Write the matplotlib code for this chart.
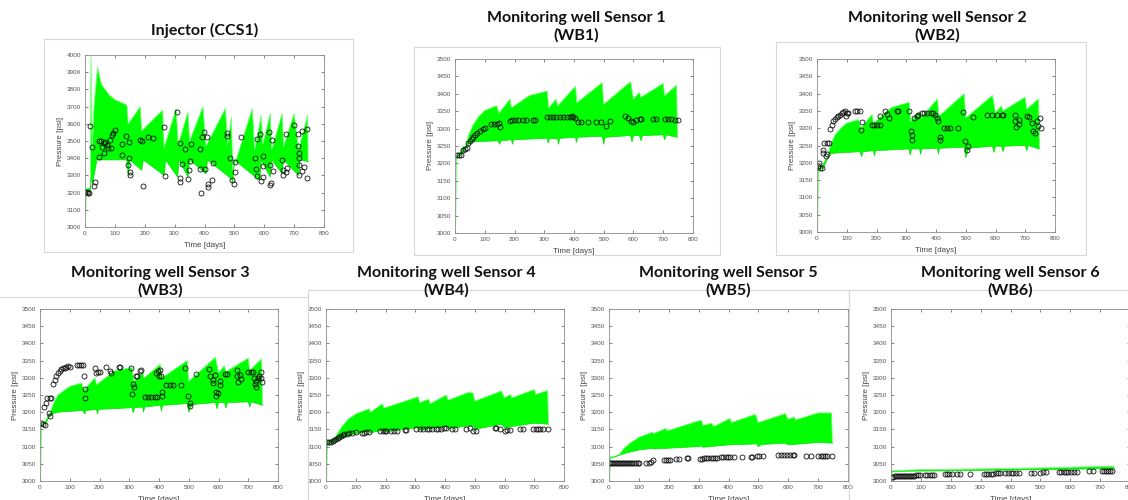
import matplotlib.pyplot as plt
from matplotlib.patches import Rectangle

W, H = 1128, 500

# Ensemble envelopes and observed pressures, (time [days], pressure [psi])
ccs1_upper = [(3, 3220), (18, 3230), (20, 4000), (24, 3450), (30, 3700), (42, 3930), (55, 3830),
              (80, 3770), (100, 3740), (140, 3710), (145, 3600), (185, 3700), (190, 3560),
              (260, 3680), (265, 3460), (305, 3690), (312, 3480), (345, 3670), (350, 3500),
              (395, 3700), (405, 3470), (470, 3690), (478, 3480), (490, 3640), (495, 3330),
              (560, 3690), (568, 3450), (590, 3650), (595, 3480), (620, 3660), (625, 3450),
              (660, 3660), (665, 3470), (700, 3660), (715, 3450), (745, 3650), (747, 3380)]
ccs1_lower = [(3, 3000), (5, 3200), (18, 3210), (20, 3280), (25, 3250), (40, 3390), (100, 3390),
              (140, 3390), (145, 3300), (150, 3390), (190, 3330), (195, 3390), (265, 3300),
              (270, 3390), (310, 3290), (315, 3390), (345, 3290), (350, 3390), (405, 3310),
              (410, 3390), (490, 3280), (495, 3260), (500, 3390), (585, 3270), (590, 3390),
              (620, 3290), (625, 3390), (660, 3310), (665, 3390), (715, 3300), (720, 3390),
              (747, 3380)]
ccs1_obs = [(1, 3203), (6, 3201), (10, 3200), (15, 3200), (17, 3588), (25, 3464), (31, 3236),
            (33, 3259), (46, 3408), (48, 3500), (52, 3502), (58, 3464), (62, 3487), (65, 3429),
            (68, 3497), (73, 3478), (78, 3462), (84, 3507), (87, 3458), (91, 3534), (95, 3545),
            (100, 3565), (123, 3482), (125, 3420), (136, 3530), (143, 3362), (146, 3493),
            (148, 3400), (149, 3300), (150, 3319), (184, 3507), (191, 3499), (193, 3236),
            (210, 3526), (229, 3516), (266, 3580), (267, 3294), (309, 3671), (317, 3487),
            (317, 3284), (318, 3259), (324, 3366), (335, 3454), (345, 3280), (349, 3333),
            (351, 3385), (355, 3483), (385, 3454), (387, 3197), (384, 3337), (391, 3522),
            (398, 3551), (402, 3337), (407, 3522), (412, 3251), (413, 3232), (425, 3271),
            (427, 3371), (474, 3549), (476, 3530), (485, 3404), (493, 3275), (499, 3251),
            (502, 3377), (503, 3319), (521, 3526), (569, 3400), (571, 3337), (575, 3298),
            (577, 3512), (585, 3538), (589, 3265), (595, 3292), (596, 3414), (597, 3352),
            (617, 3555), (619, 3362), (620, 3242), (623, 3253), (625, 3503), (628, 3325),
            (660, 3391), (662, 3333), (664, 3304), (675, 3342), (674, 3321), (673, 3540),
            (701, 3592), (712, 3540), (714, 3472), (715, 3433), (717, 3400), (715, 3358),
            (715, 3300), (725, 3561), (725, 3323), (733, 3346), (744, 3284), (744, 3569)]

wb1_upper = [(4, 3222), (15, 3228), (28, 3250), (35, 3245), (45, 3280), (60, 3310), (80, 3335),
             (100, 3352), (140, 3366), (148, 3345), (185, 3385), (190, 3360), (250, 3395),
             (310, 3408), (315, 3360), (340, 3385), (345, 3365), (405, 3422), (410, 3375),
             (495, 3432), (500, 3370), (590, 3435), (600, 3385), (620, 3405), (625, 3390),
             (700, 3430), (705, 3395), (745, 3425), (748, 3275)]
wb1_lower = [(4, 3000), (6, 3218), (20, 3225), (30, 3235), (45, 3255), (60, 3262), (145, 3265),
             (150, 3255), (155, 3265), (190, 3268), (193, 3255), (197, 3268), (310, 3272),
             (313, 3258), (318, 3272), (345, 3270), (348, 3255), (352, 3272), (405, 3275),
             (408, 3260), (412, 3275), (495, 3278), (500, 3255), (505, 3275), (590, 3280),
             (595, 3262), (600, 3280), (620, 3280), (625, 3265), (630, 3280), (700, 3282),
             (705, 3268), (710, 3282), (748, 3275)]
wb1_obs = [(8, 3224), (14, 3224), (20, 3225), (28, 3238), (34, 3241), (39, 3243), (45, 3258),
           (50, 3264), (56, 3270), (62, 3277), (67, 3283), (75, 3288), (84, 3294), (93, 3298),
           (101, 3303), (120, 3312), (131, 3312), (140, 3312), (149, 3315), (151, 3304),
           (185, 3323), (191, 3324), (201, 3324), (212, 3324), (229, 3324), (240, 3324),
           (263, 3324), (268, 3324), (308, 3333), (319, 3333), (330, 3333), (341, 3333),
           (352, 3333), (363, 3333), (375, 3333), (386, 3333), (392, 3335), (397, 3332),
           (403, 3330), (414, 3320), (425, 3320), (447, 3320), (475, 3320), (492, 3320),
           (506, 3308), (522, 3322), (570, 3335), (582, 3330), (593, 3322), (598, 3320),
           (610, 3325), (621, 3327), (626, 3327), (666, 3327), (677, 3327), (705, 3329),
           (716, 3329), (727, 3327), (738, 3326), (749, 3326)]

wb2_upper = [(4, 3185), (15, 3190), (25, 3205), (35, 3215), (45, 3250), (60, 3280), (80, 3300),
             (100, 3315), (140, 3325), (148, 3300), (185, 3340), (190, 3315), (250, 3360),
             (310, 3375), (315, 3320), (345, 3350), (350, 3330), (405, 3385), (410, 3335),
             (495, 3400), (500, 3330), (590, 3395), (600, 3345), (620, 3365), (625, 3350),
             (700, 3390), (705, 3355), (745, 3385), (748, 3240)]
wb2_lower = [(4, 3000), (6, 3180), (20, 3185), (30, 3200), (40, 3225), (60, 3228), (145, 3232),
             (150, 3218), (155, 3232), (190, 3235), (193, 3220), (197, 3235), (310, 3240),
             (313, 3222), (318, 3240), (345, 3240), (348, 3225), (352, 3240), (405, 3242),
             (408, 3225), (412, 3242), (495, 3245), (500, 3215), (510, 3242), (590, 3248),
             (595, 3230), (600, 3248), (620, 3248), (625, 3232), (630, 3248), (700, 3250),
             (705, 3235), (710, 3250), (748, 3240)]
wb2_obs = [(4, 3190), (8, 3199), (10, 3185), (16, 3184), (19, 3236), (21, 3228), (25, 3257),
           (30, 3219), (32, 3257), (35, 3224), (41, 3257), (44, 3298), (49, 3310), (55, 3320),
           (60, 3328), (66, 3332), (71, 3336), (77, 3339), (83, 3344), (89, 3346), (94, 3349),
           (97, 3334), (100, 3344), (105, 3344), (128, 3349), (136, 3349), (145, 3349),
           (148, 3296), (150, 3317), (184, 3310), (192, 3310), (200, 3310), (212, 3310),
           (212, 3334), (229, 3349), (235, 3340), (243, 3329), (268, 3349), (273, 3349),
           (310, 3349), (316, 3291), (318, 3281), (318, 3267), (326, 3329), (335, 3334),
           (340, 3339), (352, 3344), (360, 3344), (371, 3344), (382, 3344), (391, 3344),
           (396, 3339), (402, 3329), (408, 3320), (413, 3276), (415, 3267), (427, 3301),
           (436, 3301), (447, 3301), (475, 3301), (490, 3346), (497, 3262), (503, 3238),
           (509, 3248), (525, 3332), (570, 3339), (587, 3339), (604, 3339), (621, 3339),
           (626, 3339), (666, 3339), (666, 3320), (669, 3303), (680, 3325), (680, 3312),
           (705, 3334), (714, 3332), (722, 3315), (727, 3291), (733, 3286), (738, 3320),
           (744, 3305), (750, 3329), (752, 3301)]

wb3_upper = [(4, 3165), (15, 3170), (25, 3185), (35, 3200), (45, 3225), (60, 3250), (100, 3275),
             (140, 3285), (148, 3265), (185, 3300), (190, 3280), (250, 3320), (310, 3330),
             (315, 3290), (345, 3315), (350, 3300), (405, 3340), (410, 3300), (495, 3350),
             (500, 3290), (590, 3360), (600, 3315), (620, 3335), (625, 3318), (700, 3357),
             (705, 3322), (745, 3355), (748, 3220)]
wb3_lower = [(4, 3000), (6, 3162), (20, 3168), (30, 3185), (40, 3195), (60, 3200), (145, 3205),
             (150, 3195), (155, 3205), (190, 3208), (193, 3195), (197, 3208), (310, 3213),
             (313, 3198), (318, 3213), (345, 3215), (348, 3200), (352, 3215), (405, 3220),
             (408, 3203), (412, 3220), (495, 3225), (500, 3200), (510, 3222), (590, 3228),
             (595, 3210), (600, 3228), (620, 3228), (625, 3212), (630, 3228), (700, 3230),
             (705, 3215), (710, 3230), (748, 3220)]
wb3_obs = [(4, 3169), (10, 3165), (16, 3164), (13, 3216), (19, 3226), (24, 3240), (30, 3198),
           (32, 3240), (33, 3188), (38, 3240), (44, 3281), (49, 3294), (55, 3304), (61, 3313),
           (66, 3320), (72, 3326), (77, 3328), (83, 3328), (89, 3330), (94, 3333), (100, 3331),
           (124, 3338), (131, 3338), (139, 3338), (145, 3338), (148, 3304), (150, 3267),
           (152, 3242), (184, 3328), (187, 3315), (195, 3318), (200, 3318), (223, 3331),
           (234, 3321), (240, 3313), (264, 3331), (268, 3331), (307, 3328), (310, 3253),
           (313, 3282), (315, 3274), (322, 3304), (326, 3306), (335, 3321), (341, 3323),
           (352, 3245), (363, 3245), (374, 3245), (385, 3245), (393, 3245), (389, 3315),
           (397, 3321), (399, 3304), (402, 3323), (408, 3304), (411, 3247), (411, 3260),
           (425, 3279), (436, 3279), (447, 3279), (475, 3279), (486, 3328), (497, 3247),
           (503, 3228), (505, 3218), (523, 3311), (568, 3325), (573, 3304), (581, 3294),
           (581, 3284), (587, 3308), (593, 3260), (598, 3255), (593, 3247), (606, 3292),
           (604, 3279), (621, 3311), (629, 3311), (662, 3323), (662, 3304), (666, 3289),
           (673, 3308), (677, 3296), (699, 3318), (710, 3318), (716, 3318), (718, 3299),
           (722, 3282), (725, 3274), (727, 3291), (733, 3299), (736, 3304), (744, 3317),
           (747, 3289), (744, 3299)]

wb4_upper = [(4, 3115), (20, 3120), (30, 3125), (40, 3140), (55, 3160), (75, 3180), (100, 3195),
             (145, 3210), (150, 3200), (190, 3225), (195, 3212), (310, 3245), (315, 3228),
             (345, 3238), (350, 3225), (405, 3250), (410, 3235), (480, 3258), (495, 3255),
             (500, 3232), (590, 3262), (600, 3242), (620, 3252), (625, 3242), (700, 3266),
             (705, 3252), (745, 3263), (748, 3165)]
wb4_lower = [(4, 3000), (6, 3108), (20, 3112), (30, 3118), (50, 3125), (80, 3135), (145, 3145),
             (150, 3140), (190, 3148), (195, 3143), (310, 3155), (315, 3148), (405, 3160),
             (410, 3152), (495, 3162), (500, 3150), (590, 3165), (600, 3155), (700, 3168),
             (748, 3165)]
wb4_obs = [(4, 3112), (11, 3112), (17, 3114), (22, 3116), (28, 3119), (34, 3122), (39, 3125),
           (45, 3128), (50, 3131), (56, 3133), (62, 3136), (69, 3138), (78, 3140), (89, 3140),
           (101, 3141), (120, 3140), (128, 3140), (136, 3141), (145, 3143), (181, 3145),
           (190, 3145), (198, 3145), (203, 3145), (220, 3146), (229, 3146), (237, 3146),
           (265, 3148), (270, 3148), (304, 3151), (315, 3150), (327, 3150), (338, 3151),
           (347, 3151), (355, 3151), (371, 3152), (377, 3152), (388, 3152), (396, 3153),
           (405, 3153), (422, 3151), (433, 3151), (472, 3150), (483, 3153), (494, 3146),
           (505, 3146), (567, 3154), (573, 3153), (584, 3150), (601, 3146), (609, 3148),
           (620, 3149), (651, 3151), (662, 3151), (696, 3152), (707, 3152), (713, 3151),
           (720, 3151), (729, 3151), (746, 3151)]

wb5_upper = [(4, 3070), (20, 3072), (35, 3078), (50, 3095), (70, 3110), (100, 3127), (145, 3142),
             (150, 3138), (190, 3153), (195, 3146), (300, 3175), (310, 3176), (315, 3162),
             (345, 3168), (350, 3158), (405, 3182), (410, 3170), (490, 3194), (500, 3170),
             (590, 3196), (600, 3180), (620, 3186), (625, 3178), (700, 3198), (745, 3198),
             (748, 3110)]
wb5_lower = [(4, 3000), (6, 3068), (20, 3070), (35, 3075), (60, 3082), (100, 3090), (145, 3095),
             (150, 3093), (300, 3100), (310, 3102), (315, 3098), (400, 3105), (495, 3108),
             (500, 3100), (510, 3106), (590, 3110), (600, 3105), (700, 3112), (748, 3110)]
wb5_obs = [(3, 3052), (8, 3052), (13, 3052), (18, 3052), (23, 3052), (28, 3052), (33, 3052),
           (38, 3052), (43, 3052), (48, 3052), (53, 3052), (58, 3052), (63, 3052), (68, 3052),
           (73, 3052), (78, 3052), (84, 3052), (90, 3052), (96, 3052), (100, 3052), (125, 3052),
           (133, 3053), (140, 3055), (146, 3060), (185, 3062), (192, 3062), (198, 3062),
           (205, 3062), (225, 3063), (235, 3063), (262, 3066), (266, 3066), (305, 3065),
           (312, 3065), (318, 3066), (325, 3066), (332, 3066), (340, 3068), (348, 3068),
           (355, 3068), (362, 3068), (375, 3070), (382, 3070), (390, 3070), (398, 3070),
           (405, 3070), (420, 3070), (445, 3070), (475, 3070), (480, 3070), (494, 3072),
           (503, 3072), (517, 3072), (565, 3075), (575, 3075), (585, 3075), (595, 3075),
           (605, 3075), (615, 3075), (620, 3075), (660, 3072), (675, 3072), (700, 3073),
           (710, 3073), (715, 3073), (722, 3073), (730, 3073), (745, 3073)]

wb6_upper = [(4, 3030), (100, 3033), (300, 3035), (500, 3038), (745, 3043), (748, 3036)]
wb6_lower = [(4, 3000), (6, 3028), (300, 3031), (748, 3036)]
wb6_obs = [(3, 3013), (8, 3013), (13, 3014), (18, 3014), (23, 3014), (28, 3014), (33, 3014),
           (38, 3015), (43, 3015), (48, 3015), (53, 3015), (58, 3015), (63, 3015), (68, 3015),
           (73, 3015), (78, 3015), (84, 3016), (90, 3016), (96, 3016), (115, 3018), (122, 3018),
           (130, 3018), (138, 3018), (145, 3018), (180, 3020), (188, 3020), (195, 3020),
           (205, 3020), (222, 3020), (230, 3020), (265, 3020), (310, 3021), (318, 3021),
           (326, 3021), (334, 3021), (342, 3021), (350, 3022), (358, 3022), (366, 3022),
           (382, 3022), (390, 3022), (400, 3022), (410, 3022), (420, 3022), (430, 3022),
           (470, 3023), (480, 3023), (498, 3024), (508, 3025), (520, 3025), (562, 3027),
           (570, 3027), (578, 3027), (586, 3027), (594, 3027), (604, 3027), (614, 3027),
           (622, 3027), (662, 3029), (676, 3029), (705, 3029), (712, 3029), (718, 3029),
           (725, 3029), (732, 3029), (740, 3029)]

x_ticks = [0, 100, 200, 300, 400, 500, 600, 700, 800]
ccs1_y_ticks = [3000, 3100, 3200, 3300, 3400, 3500, 3600, 3700, 3800, 3900, 4000]
well_y_ticks = [3000, 3050, 3100, 3150, 3200, 3250, 3300, 3350, 3400, 3450, 3500]

# title, lines, data, y ticks, axes box (px: left, top, right, bottom), title centre (px)
panels = [
    ("Injector (CCS1)", ccs1_upper, ccs1_lower, ccs1_obs, ccs1_y_ticks, (85, 55, 324, 227), (205, 30)),
    ("Monitoring well Sensor 1\n(WB1)", wb1_upper, wb1_lower, wb1_obs, well_y_ticks, (455, 59, 693, 233), (576, 27)),
    ("Monitoring well Sensor 2\n(WB2)", wb2_upper, wb2_lower, wb2_obs, well_y_ticks, (817, 59, 1055, 232), (937, 27)),
    ("Monitoring well Sensor 3\n(WB3)", wb3_upper, wb3_lower, wb3_obs, well_y_ticks, (40, 309, 278, 481), (160, 282)),
    ("Monitoring well Sensor 4\n(WB4)", wb4_upper, wb4_lower, wb4_obs, well_y_ticks, (326, 309, 564, 481), (446, 282)),
    ("Monitoring well Sensor 5\n(WB5)", wb5_upper, wb5_lower, wb5_obs, well_y_ticks, (609, 309, 848, 481), (728, 282)),
    ("Monitoring well Sensor 6\n(WB6)", wb6_upper, wb6_lower, wb6_obs, well_y_ticks, (891, 309, 1130, 481), (1010, 282)),
]

# light screenshot frames (px: left, top, right, bottom)
frames = [(44, 39, 353, 252), (414, 47, 720, 255), (776, 42, 1086, 255),
          (-2, 297, 308, 510), (308, 290, 849, 510), (849, 290, 1140, 510)]

plt.rcParams['font.family'] = ['Liberation Sans', 'DejaVu Sans']

fig = plt.figure(figsize=(W / 100, H / 100), dpi=100)

for l, t, r, b in frames:
    fig.patches.append(Rectangle((l / W, 1 - b / H), (r - l) / W, (b - t) / H,
                                 transform=fig.transFigure, fill=False,
                                 ec='#d8d8d8', lw=0.8, zorder=0))

for title, upper, lower, obs, yt, (l, t, r, b), (tx, ty) in panels:
    ax = fig.add_axes([l / W, 1 - b / H, (r - l) / W, (b - t) / H])
    ut = [p[0] for p in upper]
    up = [p[1] for p in upper]
    lt = [p[0] for p in lower]
    lp = [p[1] for p in lower]
    ax.fill(ut + lt[::-1], up + lp[::-1], color='#00ff00', lw=0)
    ax.plot(ut, up, color='#7dff7d', lw=0.6)
    ax.plot(lt[1:], lp[1:], color='#00e000', lw=0.5)
    ax.plot([p[0] for p in obs], [p[1] for p in obs], 'o', mfc='none', mec='#111111',
            ms=3.6, mew=0.6)

    ax.set_xlim(0, 800)
    ax.set_ylim(yt[0], yt[-1])
    ax.set_xticks(x_ticks)
    ax.set_yticks(yt)
    ax.tick_params(direction='in', top=True, right=True, length=2, width=0.5,
                   labelsize=4.6, colors='#555555', pad=3)
    for s in ax.spines.values():
        s.set_color('#8c8c8c')
        s.set_linewidth(0.6)
    ax.set_xlabel('Time [days]', fontsize=5.8, color='#444444', labelpad=4.5)
    ax.set_ylabel('Pressure [psi]', fontsize=5.8, color='#444444', labelpad=2)

    fig.text(tx / W, 1 - ty / H, title, ha='center', va='center', fontsize=11.5,
             fontweight='bold', family=['Lato', 'DejaVu Sans'], linespacing=1.25,
             color='#111111')

fig.savefig('out.png', dpi=100)
plt.close(fig)
